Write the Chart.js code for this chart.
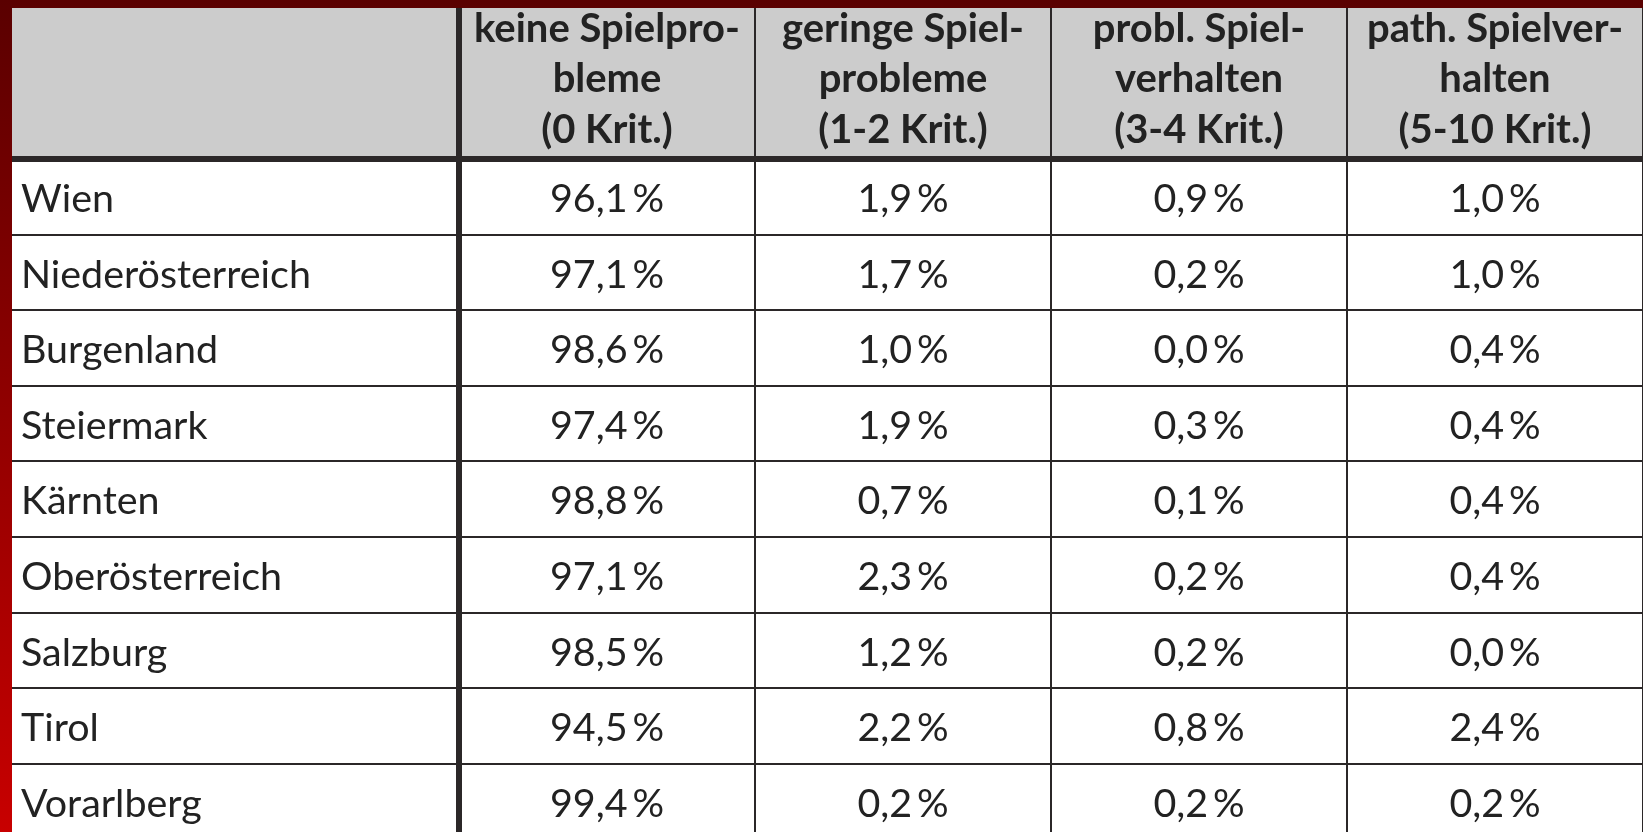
<!DOCTYPE html>
<html><head><meta charset="utf-8">
<script src="https://cdn.jsdelivr.net/npm/chart.js@4"></script>
<style>
html,body{margin:0;padding:0;width:1643px;height:832px;overflow:hidden;}
body{background:linear-gradient(to bottom,#5a0000 0%,#c80000 100%);position:relative;}
#wrap{position:absolute;left:12px;top:8px;width:1631px;height:840px;background:#ffffff;}
canvas{display:block;}
</style></head><body>
<div id="wrap"><canvas id="c" width="1631" height="840"></canvas></div>
<script>
// ---- data ----
const regions = ['Wien','Niederösterreich','Burgenland','Steiermark','Kärnten','Oberösterreich','Salzburg','Tirol','Vorarlberg'];
const columnHeaders = [
  ['keine Spielpro-','bleme','(0 Krit.)'],
  ['geringe Spiel-','probleme','(1-2 Krit.)'],
  ['probl. Spiel-','verhalten','(3-4 Krit.)'],
  ['path. Spielver-','halten','(5-10 Krit.)']
];
const keineSpielprobleme   = [96.1, 97.1, 98.6, 97.4, 98.8, 97.1, 98.5, 94.5, 99.4];
const geringeSpielprobleme = [1.9, 1.7, 1.0, 1.9, 0.7, 2.3, 1.2, 2.2, 0.2];
const problSpielverhalten  = [0.9, 0.2, 0.0, 0.3, 0.1, 0.2, 0.2, 0.8, 0.2];
const pathSpielverhalten   = [1.0, 1.0, 0.4, 0.4, 0.4, 0.4, 0.0, 2.4, 0.2];

// ---- styling ----
const TEXT = '#222222';
const LINE = '#2b2728';
const HEADER_BG = '#cccccc';
const FONT = 'Lato';

const mctx = document.createElement('canvas').getContext('2d');
function fitSize(text, weight, target) {
  mctx.font = weight + ' 100px ' + FONT;
  return 100 * target / mctx.measureText(text).width;
}
const bodySize = fitSize('Niederösterreich', 'normal', 290);
const headSize = fitSize('keine Spielpro-', 'bold', 266);

const columnKeys = columnHeaders.map(h => h.join(' '));
const valueSets = [keineSpielprobleme, geringeSpielprobleme, problSpielverhalten, pathSpielverhalten];
const fmt = v => v.toFixed(1).replace('.', ',') + '\u2009%';

const datasets = valueSets.map((vals, j) => ({
  label: columnKeys[j],
  data: regions.map((r, i) => ({ x: columnKeys[j], y: r, v: vals[i] })),
  pointRadius: 0,
  pointHoverRadius: 0,
  showLine: false
}));

const headerBg = {
  id: 'headerBg',
  beforeDraw(chart) {
    const ctx = chart.ctx;
    ctx.save();
    ctx.fillStyle = HEADER_BG;
    ctx.fillRect(0, 0, chart.width, chart.scales.x.bottom);
    ctx.restore();
  }
};

const cellText = {
  id: 'cellText',
  afterDatasetsDraw(chart) {
    const ctx = chart.ctx;
    ctx.save();
    ctx.font = bodySize + 'px ' + FONT;
    ctx.fillStyle = TEXT;
    ctx.textAlign = 'center';
    ctx.textBaseline = 'middle';
    chart.data.datasets.forEach((ds, d) => {
      chart.getDatasetMeta(d).data.forEach((pt, i) => {
        ctx.fillText(fmt(ds.data[i].v), pt.x, pt.y + 2.5);
      });
    });
    ctx.restore();
  }
};

function noPad(s) {
  s.paddingTop = 0; s.paddingBottom = 0; s.paddingLeft = 0; s.paddingRight = 0;
}

new Chart(document.getElementById('c'), {
  type: 'scatter',
  data: { datasets },
  plugins: [headerBg, cellText],
  options: {
    responsive: false,
    animation: false,
    events: [],
    devicePixelRatio: 1,
    layout: { padding: { left: 9, top: 0, right: 0, bottom: 8.6 } },
    plugins: { legend: { display: false }, tooltip: { enabled: false } },
    scales: {
      x: {
        type: 'category',
        labels: columnKeys,
        position: 'top',
        offset: true,
        grid: {
          offset: true,
          color: LINE,
          lineWidth: c => (c.index === 0 ? 6 : 2),
          drawTicks: true,
          tickLength: 151,
          drawOnChartArea: true
        },
        border: { display: true, color: LINE, width: 6 },
        ticks: {
          autoSkip: false,
          maxRotation: 0,
          minRotation: 0,
          padding: -147.25,
          color: TEXT,
          font: { family: FONT, weight: 'bold', size: headSize, lineHeight: 50.5 / headSize },
          callback: (v, i) => columnHeaders[i]
        },
        afterFit: s => { s.height = 151; noPad(s); }
      },
      y: {
        type: 'category',
        labels: regions,
        position: 'left',
        offset: true,
        grid: {
          offset: true,
          color: LINE,
          lineWidth: c => (c.index === 0 ? 6 : 2),
          drawTicks: true,
          tickLength: 447,
          drawOnChartArea: true
        },
        border: { display: true, color: LINE, width: 6 },
        ticks: {
          autoSkip: false,
          crossAlign: 'far',
          padding: 0,
          color: TEXT,
          font: { family: FONT, size: bodySize, lineHeight: '5px' },
          callback: (v, i) => ['', regions[i]]
        },
        afterFit: s => { s.width = 438; noPad(s); }
      }
    }
  }
});
</script>
</body></html>
